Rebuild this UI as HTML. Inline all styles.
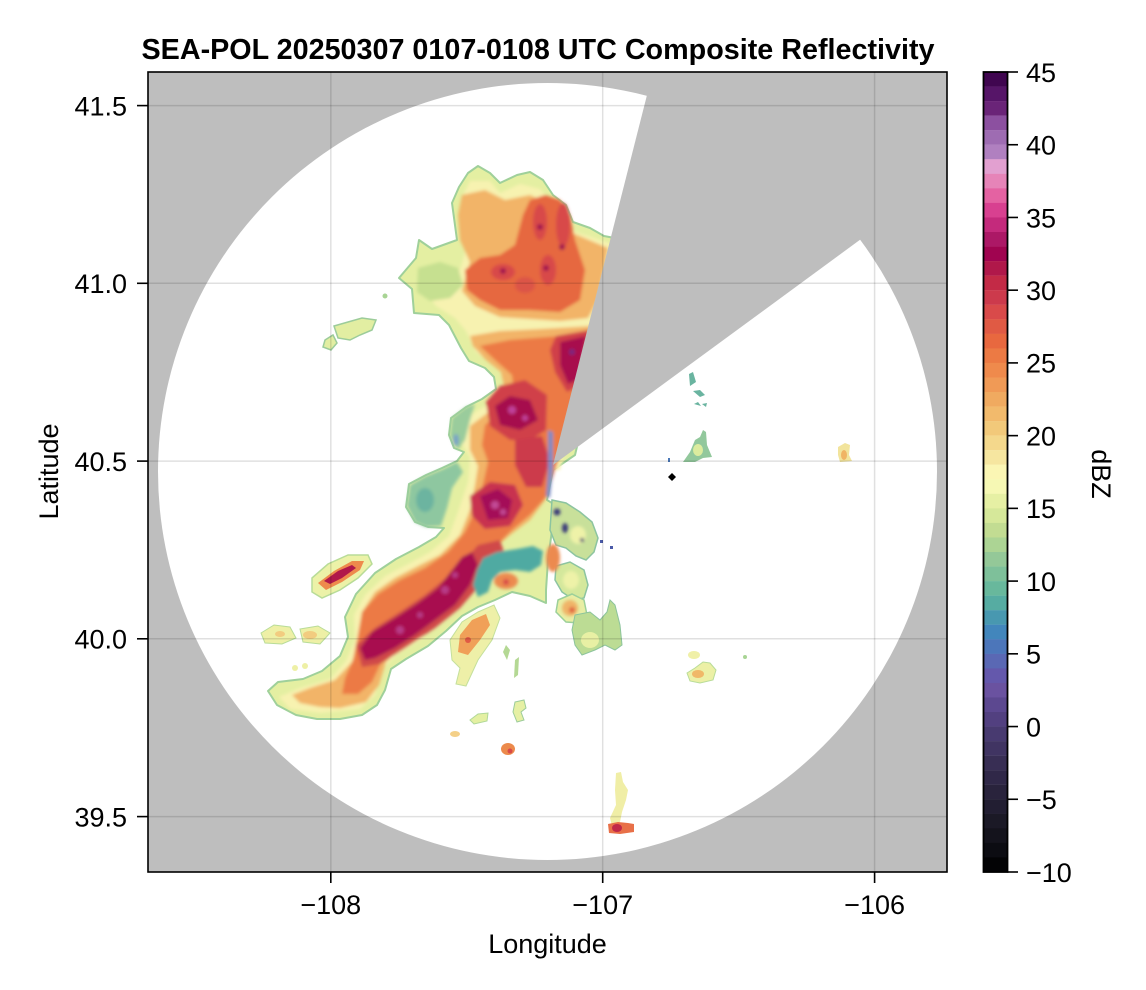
<!DOCTYPE html>
<html><head><meta charset="utf-8"><style>
html,body{margin:0;padding:0;background:#fff;}
svg{display:block;}
text{font-family:"Liberation Sans",Arial,sans-serif;fill:#000;}
</style></head><body>
<svg width="1146" height="990" viewBox="0 0 1146 990" xmlns="http://www.w3.org/2000/svg">
<defs>
<clipPath id="pa"><rect x="148" y="72" width="799" height="800"/></clipPath>
<filter id="b1" filterUnits="userSpaceOnUse" x="0" y="0" width="1146" height="990"><feGaussianBlur stdDeviation="1.6"/></filter>
</defs>
<g clip-path="url(#pa)">
<rect x="148" y="72" width="799" height="800" fill="#bebebe"/>
<ellipse cx="547.5" cy="471.5" rx="389.5" ry="388.5" fill="#fff"/>

<!-- main echo fringe -->
<path fill="#e4efa2" stroke="#9fd09a" stroke-width="2" stroke-linejoin="round" d="M468,173 L478,166 L490,173 L500,183 L517,175 L530,172 L543,180 L553,195 L566,205 L573,222 L590,228 L604,236 L625,240 L600,350 L575,455 L553,470 L547,500 L552,503 L552,530 L548,560 L546,590 L546,603 L530,596 L512,592 L495,600 L478,607 L462,616 L446,631 L428,646 L406,659 L391,669 L385,690 L377,705 L362,715 L340,719 L317,719 L296,715 L277,705 L268,691 L278,682 L303,679 L322,671 L340,656 L348,637 L345,617 L356,594 L375,573 L396,559 L419,547 L436,537 L444,528 L428,527 L415,522 L406,507 L409,484 L426,475 L442,468 L457,461 L464,452 L454,448 L449,435 L451,418 L466,407 L482,399 L496,389 L494,377 L485,368 L469,361 L461,348 L449,325 L439,315 L414,313 L412,289 L399,278 L416,258 L419,240 L432,249 L457,240 L452,203 L459,187 Z"/>

<!-- east cluster pieces -->
<path fill="#c8e09a" stroke="#8cc4a0" stroke-width="1.5" d="M552,500 L566,503 L580,512 L592,522 L598,538 L594,552 L586,560 L576,556 L566,548 L556,545 L550,530 Z"/>
<path fill="#d4e89c" stroke="#8cc4a0" stroke-width="1.5" d="M556,566 L570,562 L584,570 L588,585 L584,598 L574,600 L562,592 L555,580 Z"/>
<path fill="#e8eea4" stroke="#9cd09a" stroke-width="1.5" d="M558,600 L572,594 L584,600 L587,615 L580,623 L566,622 L556,612 Z"/>

<g filter="url(#b1)">
<path fill="#f7f2b0" d="M470,181 L490,181 L500,193 L520,184 L540,189 L555,206 L570,230 L612,244 L590,340 L560,470 L545,470 L540,500 L520,505 L500,530 L490,550 L472,562 L474,582 L460,600 L440,620 L420,640 L396,655 L381,670 L375,695 L360,709 L320,713 L290,709 L279,697 L300,688 L330,679 L346,661 L355,640 L354,615 L365,595 L385,576 L410,563 L430,552 L449,536 L458,512 L468,482 L470,457 L460,441 L462,421 L480,409 L505,396 L505,375 L490,362 L476,352 L466,331 L455,318 L436,306 L426,293 L440,281 L460,270 L467,246 L461,215 L464,193 Z"/>
<path fill="#c6e090" d="M418,268 L440,262 L458,268 L463,285 L450,298 L430,301 L417,292 Z"/>
<path fill="#8ec7a0" d="M407,506 L410,485 L426,476 L443,469 L457,462 L463,472 L452,488 L447,508 L441,526 L426,527 L415,522 Z"/>
<ellipse cx="425" cy="500" rx="9" ry="12" fill="#6cb4a0"/>
<path fill="#9acc9c" d="M452,418 L466,407 L475,404 L470,420 L465,440 L458,450 L450,436 Z"/>
<ellipse cx="456" cy="440" rx="3" ry="6" fill="#7aa4c4"/>

<path fill="#f2b468" d="M462,195 L485,190 L505,200 L530,195 L552,205 L570,232 L608,248 L598,300 L588,318 L560,321 L530,319 L500,317 L475,306 L462,291 L470,262 L460,240 L458,215 Z"/>
<path fill="#f2b468" d="M470,336 L500,331 L540,329 L592,326 L576,400 L565,440 L555,470 L545,500 L530,520 L510,535 L495,548 L480,560 L470,575 L455,595 L440,612 L420,630 L400,648 L386,662 L379,685 L366,702 L340,708 L320,707 L300,703 L292,695 L310,688 L335,680 L352,662 L360,640 L362,612 L375,592 L395,578 L420,565 L440,555 L460,535 L470,510 L475,485 L478,466 L470,450 L470,426 L490,411 L506,396 L501,372 L486,360 L473,346 Z"/>

<path fill="#e6683f" d="M465,270 L480,258 L500,255 L515,245 L523,215 L530,200 L545,195 L560,200 L570,215 L575,240 L585,270 L580,300 L560,312 L530,310 L500,310 L480,300 L467,290 Z"/>
<path fill="#ec7a44" d="M480,346 L510,340 L560,336 L590,330 L576,400 L565,440 L555,470 L548,495 L530,515 L512,530 L497,545 L480,558 L465,580 L450,600 L430,618 L410,635 L390,650 L380,665 L372,682 L358,694 L342,694 L345,678 L353,660 L358,635 L362,612 L378,594 L400,580 L425,568 L448,552 L465,532 L478,505 L484,480 L488,462 L482,445 L485,425 L500,412 L515,400 L512,375 L495,360 Z"/>

<ellipse cx="540" cy="222" rx="7" ry="18" fill="#d84a48"/>
<ellipse cx="563" cy="225" rx="7" ry="22" fill="#d84a48"/>
<ellipse cx="503" cy="272" rx="12" ry="8" fill="#d84a48"/>
<ellipse cx="548" cy="270" rx="8" ry="15" fill="#d84a48"/>
<ellipse cx="525" cy="285" rx="10" ry="8" fill="#dc5446"/>
<circle cx="540" cy="227" r="3" fill="#a01050"/>
<circle cx="562" cy="247" r="3" fill="#a01050"/>
<circle cx="503" cy="271" r="3" fill="#a01050"/>
<circle cx="546" cy="268" r="3" fill="#a01050"/>

<path fill="#d0404a" d="M556,336 L590,330 L580,385 L567,392 L555,372 L550,350 Z"/>
<path fill="#a80e4e" d="M560,342 L586,336 L578,380 L568,384 L560,365 Z"/>
<circle cx="572" cy="352" r="3" fill="#7a2880"/>

<path fill="#d0404a" d="M486,402 L500,386 L525,380 L547,395 L546,430 L530,440 L510,440 L490,426 Z"/>
<path fill="#a6104e" d="M495,406 L510,396 L530,400 L538,420 L520,430 L500,425 Z"/>
<circle cx="512" cy="410" r="4" fill="#c0409a"/>
<circle cx="525" cy="418" r="3" fill="#c0409a"/>
<path fill="#cc3a4c" d="M515,440 L542,436 L550,460 L542,487 L526,487 L515,465 Z"/>

<path fill="#c83050" d="M470,496 L490,482 L515,485 L523,505 L510,526 L485,529 L472,516 Z"/>
<path fill="#a41058" d="M480,496 L498,489 L512,500 L508,518 L488,520 Z"/>
<circle cx="495" cy="505" r="4" fill="#c24a96"/>
<circle cx="503" cy="512" r="3" fill="#c24a96"/>

<path fill="#d04848" d="M478,545 L500,540 L505,555 L480,585 L460,608 L435,628 L405,648 L380,664 L362,667 L356,645 L375,628 L400,612 L425,595 L450,575 L465,560 Z"/>
<path fill="#a80c50" d="M472,552 L478,565 L470,585 L455,605 L435,620 L415,635 L395,648 L375,658 L365,660 L360,648 L372,632 L395,618 L418,603 L438,588 L452,570 L462,557 Z"/>
<circle cx="445" cy="590" r="4" fill="#b83a88"/>
<circle cx="420" cy="615" r="3" fill="#b83a88"/>
<circle cx="400" cy="630" r="4" fill="#b83a88"/>
<circle cx="455" cy="575" r="3" fill="#b83a88"/>

<path fill="#7a8cc4" d="M548,430 L553,432 L553,468 L550,498 L546,496 L548,470 Z"/>

<!-- east cluster details -->
<ellipse cx="578" cy="535" rx="8" ry="9" fill="#eef2a8"/>
<ellipse cx="571" cy="580" rx="8" ry="9" fill="#eef2a8"/>
<ellipse cx="553" cy="558" rx="7" ry="14" fill="#ec8a50"/>
<ellipse cx="570" cy="608" rx="8" ry="8" fill="#f0b468"/>
<circle cx="572" cy="610" r="3" fill="#e06040"/>
<circle cx="557" cy="512" r="3.5" fill="#3a3a78"/>
<ellipse cx="565" cy="528" rx="3" ry="5" fill="#3a3a78"/>
<circle cx="582" cy="540" r="2" fill="#3a3a78"/>

<!-- teal lake -->
<path fill="#50aaa2" d="M478,597 L473,585 L477,570 L483,558 L497,552 L517,549 L533,546 L543,551 L541,565 L530,572 L515,570 L500,572 L492,580 L488,592 Z"/>
<ellipse cx="506" cy="581" rx="12" ry="8" fill="#ec8a50"/>
<circle cx="506" cy="582" r="3" fill="#d84a48"/>
</g>

<!-- other cells -->
<path fill="#ecf2a8" stroke="#b8dc98" stroke-width="1.5" d="M312,578 L328,564 L348,555 L368,555 L372,564 L358,578 L340,590 L322,598 L312,592 Z"/>
<path fill="#ee8a4c" d="M318,583 L334,571 L352,561 L364,561 L360,570 L342,582 L326,590 Z"/>
<path fill="#b0184a" d="M324,581 L338,571 L352,565 L356,568 L342,578 L330,584 Z"/>

<path fill="#e2eea2" stroke="#9ccc9a" stroke-width="1.5" d="M334,326 L348,322 L362,318 L376,320 L372,330 L360,335 L350,340 L338,338 Z"/>
<path fill="#e2eea2" stroke="#9ccc9a" stroke-width="1.5" d="M325,340 L333,335 L337,343 L331,350 L323,347 Z"/>
<circle cx="385" cy="296" r="2.5" fill="#a8d494"/>

<path fill="#eef0a6" stroke="#b8dc98" stroke-width="1" d="M261,633 L274,625 L290,627 L296,638 L282,644 L265,643 Z"/>
<path fill="#eef0a6" stroke="#b8dc98" stroke-width="1" d="M300,629 L318,626 L330,633 L320,644 L303,642 Z"/>
<ellipse cx="310" cy="635" rx="7" ry="4" fill="#f2cc80"/>
<ellipse cx="280" cy="634" rx="5" ry="3" fill="#f2cc80"/>
<circle cx="295" cy="668" r="3" fill="#eef0a6"/>
<circle cx="305" cy="666" r="3" fill="#eef0a6"/>

<path fill="#eef0a8" stroke="#c4e09c" stroke-width="1" d="M452,660 L450,640 L462,622 L478,612 L494,605 L500,618 L492,640 L478,660 L466,686 L456,684 L460,668 Z"/>
<path fill="#f0a058" d="M458,652 L460,635 L472,620 L486,614 L490,625 L480,640 L468,655 Z"/>
<circle cx="468" cy="640" r="3" fill="#e05a44"/>

<path fill="#b4d894" d="M503,652 L506,645 L510,650 L507,660 Z"/>
<path fill="#b4d894" d="M515,660 L519,657 L518,675 L514,678 Z"/>
<path fill="#e6f0a4" stroke="#9ccc9a" stroke-width="1" d="M515,702 L524,700 L526,708 L521,712 L524,720 L517,722 L513,712 Z"/>
<path fill="#e4f0a2" stroke="#b0d898" stroke-width="1" d="M470,720 L478,714 L488,713 L487,721 L474,724 Z"/>
<ellipse cx="455" cy="734" rx="5" ry="3" fill="#f4d088"/>
<ellipse cx="508" cy="749" rx="7" ry="6" fill="#ec8a4c"/>
<circle cx="510" cy="751" r="2.5" fill="#d84a48"/>

<path fill="#f0eea6" d="M616,773 L621,772 L623,782 L628,790 L626,800 L622,812 L620,822 L612,826 L610,818 L616,805 L615,790 Z"/>
<path fill="#e87048" d="M608,824 L618,822 L628,823 L634,824 L634,832 L620,834 L609,833 Z"/>
<ellipse cx="617" cy="828" rx="5" ry="4" fill="#c02848"/>

<path fill="#ecf0a6" stroke="#b8dc98" stroke-width="1" d="M687,673 L695,668 L703,662 L710,663 L716,670 L713,680 L700,683 L690,681 Z"/>
<ellipse cx="698" cy="674" rx="6" ry="4" fill="#f0b868"/>
<ellipse cx="694" cy="655" rx="6" ry="4" fill="#f0f0a8"/>
<circle cx="745" cy="657" r="2" fill="#a8d494"/>

<path fill="#bcdc94" stroke="#8cc49c" stroke-width="1" d="M575,615 L590,612 L600,620 L607,612 L610,600 L615,605 L620,625 L622,645 L615,650 L605,645 L595,650 L582,655 L575,645 L572,630 Z"/>
<ellipse cx="590" cy="640" rx="9" ry="8" fill="#e8f0a4"/>

<path fill="#6ab4a0" d="M689,374 L693,372 L696,382 L690,386 Z"/>
<path fill="#6ab4a0" d="M693,391 L700,390 L705,395 L700,397 Z"/>
<path fill="#6ab4a0" d="M694,404 L698,402 L701,406 Z"/>
<path fill="#6ab4a0" d="M702,404 L707,403 L706,407 Z"/>
<path fill="#92c89c" d="M683,462 L690,452 L695,440 L700,437 L703,430 L706,432 L707,445 L712,457 L703,458 L695,462 Z"/>
<ellipse cx="698" cy="450" rx="5" ry="6" fill="#dcec9e"/>
<rect x="668" y="458" width="2" height="4" fill="#4a78b8"/>
<path d="M672,473 L676,477 L672,481 L668,477 Z" fill="#000"/>
<path fill="#f2e49c" d="M838,447 L845,443 L850,445 L849,455 L852,461 L840,462 L838,455 Z"/>
<ellipse cx="844" cy="455" rx="3" ry="5" fill="#f0b464"/>
<rect x="600" y="540" width="3" height="3" fill="#4a5aa8"/>
<rect x="610" y="546" width="3" height="3" fill="#4a5aa8"/>

<!-- wedge -->
<polygon points="553,465 739,-267 1161,19" fill="#bebebe"/>

<!-- grid -->
<g stroke="rgba(0,0,0,0.12)" stroke-width="1.5">
<line x1="330.8" y1="72" x2="330.8" y2="872"/>
<line x1="602.7" y1="72" x2="602.7" y2="872"/>
<line x1="874.6" y1="72" x2="874.6" y2="872"/>
<line x1="148" y1="105.6" x2="947" y2="105.6"/>
<line x1="148" y1="283.3" x2="947" y2="283.3"/>
<line x1="148" y1="461.1" x2="947" y2="461.1"/>
<line x1="148" y1="638.8" x2="947" y2="638.8"/>
<line x1="148" y1="816.6" x2="947" y2="816.6"/>
</g>
</g>

<!-- frame -->
<rect x="148" y="72" width="799" height="800" fill="none" stroke="#000" stroke-width="1.6"/>
<g stroke="#000" stroke-width="1.6">
<line x1="137" y1="105.6" x2="148" y2="105.6"/>
<line x1="137" y1="283.3" x2="148" y2="283.3"/>
<line x1="137" y1="461.1" x2="148" y2="461.1"/>
<line x1="137" y1="638.8" x2="148" y2="638.8"/>
<line x1="137" y1="816.6" x2="148" y2="816.6"/>
<line x1="330.8" y1="872" x2="330.8" y2="883"/>
<line x1="602.7" y1="872" x2="602.7" y2="883"/>
<line x1="874.6" y1="872" x2="874.6" y2="883"/>
</g>
<g font-size="27" text-anchor="end">
<text x="127" y="115.4">41.5</text>
<text x="127" y="293.1">41.0</text>
<text x="127" y="470.9">40.5</text>
<text x="127" y="648.6">40.0</text>
<text x="127" y="826.4">39.5</text>
</g>
<g font-size="27" text-anchor="middle">
<text x="330.8" y="914">−108</text>
<text x="602.7" y="914">−107</text>
<text x="874.6" y="914">−106</text>
<text x="547.5" y="953">Longitude</text>
</g>
<text font-size="27" text-anchor="middle" transform="translate(58,471.5) rotate(-90)">Latitude</text>
<text x="538" y="59" font-size="28.5" font-weight="bold" text-anchor="middle" textLength="793" lengthAdjust="spacingAndGlyphs">SEA-POL 20250307 0107-0108 UTC Composite Reflectivity</text>

<!-- colorbar -->
<g>
<rect x="983.5" y="72.00" width="24" height="14.7" fill="#400650"/>
<rect x="983.5" y="86.55" width="24" height="14.7" fill="#561568"/>
<rect x="983.5" y="101.09" width="24" height="14.7" fill="#6a2478"/>
<rect x="983.5" y="115.64" width="24" height="14.7" fill="#8c50a0"/>
<rect x="983.5" y="130.18" width="24" height="14.7" fill="#9e6cb2"/>
<rect x="983.5" y="144.73" width="24" height="14.7" fill="#b080c0"/>
<rect x="983.5" y="159.27" width="24" height="14.7" fill="#e2a0d0"/>
<rect x="983.5" y="173.82" width="24" height="14.7" fill="#e684b8"/>
<rect x="983.5" y="188.36" width="24" height="14.7" fill="#e462a2"/>
<rect x="983.5" y="202.91" width="24" height="14.7" fill="#d84090"/>
<rect x="983.5" y="217.45" width="24" height="14.7" fill="#c42a7c"/>
<rect x="983.5" y="232.00" width="24" height="14.7" fill="#ac1866"/>
<rect x="983.5" y="246.55" width="24" height="14.7" fill="#a00450"/>
<rect x="983.5" y="261.09" width="24" height="14.7" fill="#b0184a"/>
<rect x="983.5" y="275.64" width="24" height="14.7" fill="#c32a46"/>
<rect x="983.5" y="290.18" width="24" height="14.7" fill="#cc3a4c"/>
<rect x="983.5" y="304.73" width="24" height="14.7" fill="#d94a4a"/>
<rect x="983.5" y="319.27" width="24" height="14.7" fill="#e05a44"/>
<rect x="983.5" y="333.82" width="24" height="14.7" fill="#e8683f"/>
<rect x="983.5" y="348.36" width="24" height="14.7" fill="#ec7a44"/>
<rect x="983.5" y="362.91" width="24" height="14.7" fill="#ef8a4c"/>
<rect x="983.5" y="377.45" width="24" height="14.7" fill="#f09a56"/>
<rect x="983.5" y="392.00" width="24" height="14.7" fill="#f0aa60"/>
<rect x="983.5" y="406.55" width="24" height="14.7" fill="#f2ba6c"/>
<rect x="983.5" y="421.09" width="24" height="14.7" fill="#f2c97a"/>
<rect x="983.5" y="435.64" width="24" height="14.7" fill="#f4d88c"/>
<rect x="983.5" y="450.18" width="24" height="14.7" fill="#f6e6a0"/>
<rect x="983.5" y="464.73" width="24" height="14.7" fill="#fbf6b4"/>
<rect x="983.5" y="479.27" width="24" height="14.7" fill="#f6f8b4"/>
<rect x="983.5" y="493.82" width="24" height="14.7" fill="#e6f0a4"/>
<rect x="983.5" y="508.36" width="24" height="14.7" fill="#d6e89a"/>
<rect x="983.5" y="522.91" width="24" height="14.7" fill="#c2dc92"/>
<rect x="983.5" y="537.45" width="24" height="14.7" fill="#acd494"/>
<rect x="983.5" y="552.00" width="24" height="14.7" fill="#94c898"/>
<rect x="983.5" y="566.55" width="24" height="14.7" fill="#7ec09a"/>
<rect x="983.5" y="581.09" width="24" height="14.7" fill="#68b89c"/>
<rect x="983.5" y="595.64" width="24" height="14.7" fill="#56aca2"/>
<rect x="983.5" y="610.18" width="24" height="14.7" fill="#4898b0"/>
<rect x="983.5" y="624.73" width="24" height="14.7" fill="#4286bc"/>
<rect x="983.5" y="639.27" width="24" height="14.7" fill="#4c76ba"/>
<rect x="983.5" y="653.82" width="24" height="14.7" fill="#5a68b4"/>
<rect x="983.5" y="668.36" width="24" height="14.7" fill="#6458ac"/>
<rect x="983.5" y="682.91" width="24" height="14.7" fill="#6a52a0"/>
<rect x="983.5" y="697.45" width="24" height="14.7" fill="#5c4890"/>
<rect x="983.5" y="712.00" width="24" height="14.7" fill="#524080"/>
<rect x="983.5" y="726.55" width="24" height="14.7" fill="#483a70"/>
<rect x="983.5" y="741.09" width="24" height="14.7" fill="#403462"/>
<rect x="983.5" y="755.64" width="24" height="14.7" fill="#382e54"/>
<rect x="983.5" y="770.18" width="24" height="14.7" fill="#302848"/>
<rect x="983.5" y="784.73" width="24" height="14.7" fill="#29233c"/>
<rect x="983.5" y="799.27" width="24" height="14.7" fill="#221e32"/>
<rect x="983.5" y="813.82" width="24" height="14.7" fill="#1b1926"/>
<rect x="983.5" y="828.36" width="24" height="14.7" fill="#14131c"/>
<rect x="983.5" y="842.91" width="24" height="14.7" fill="#0c0c12"/>
<rect x="983.5" y="857.45" width="24" height="14.55" fill="#030305"/>
</g>
<rect x="983.5" y="72" width="24" height="800" fill="none" stroke="#000" stroke-width="1.8"/>
<g stroke="#000" stroke-width="1.6">
<line x1="1007.5" y1="72" x2="1018" y2="72"/>
<line x1="1007.5" y1="144.73" x2="1018" y2="144.73"/>
<line x1="1007.5" y1="217.45" x2="1018" y2="217.45"/>
<line x1="1007.5" y1="290.18" x2="1018" y2="290.18"/>
<line x1="1007.5" y1="362.91" x2="1018" y2="362.91"/>
<line x1="1007.5" y1="435.64" x2="1018" y2="435.64"/>
<line x1="1007.5" y1="508.36" x2="1018" y2="508.36"/>
<line x1="1007.5" y1="581.09" x2="1018" y2="581.09"/>
<line x1="1007.5" y1="653.82" x2="1018" y2="653.82"/>
<line x1="1007.5" y1="726.55" x2="1018" y2="726.55"/>
<line x1="1007.5" y1="799.27" x2="1018" y2="799.27"/>
<line x1="1007.5" y1="872" x2="1018" y2="872"/>
</g>
<g font-size="27">
<text x="1026" y="81.8">45</text>
<text x="1026" y="154.5">40</text>
<text x="1026" y="227.3">35</text>
<text x="1026" y="300">30</text>
<text x="1026" y="372.7">25</text>
<text x="1026" y="445.4">20</text>
<text x="1026" y="518.2">15</text>
<text x="1026" y="590.9">10</text>
<text x="1026" y="663.6">5</text>
<text x="1026" y="736.4">0</text>
<text x="1026" y="809.1">−5</text>
<text x="1026" y="881.8">−10</text>
</g>
<text font-size="27" text-anchor="middle" transform="translate(1092,474) rotate(90)">dBZ</text>
</svg>
</body></html>
